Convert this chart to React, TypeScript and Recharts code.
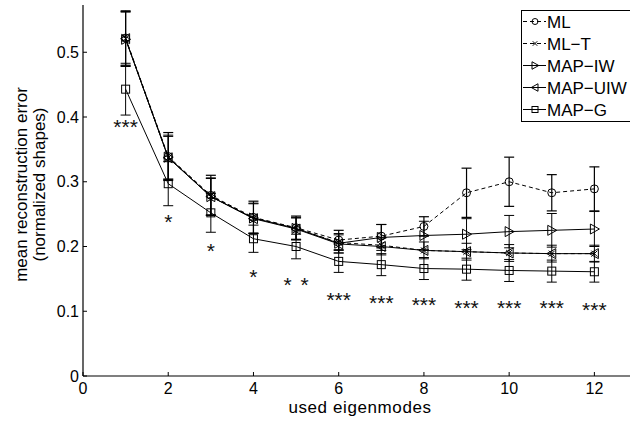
import React from 'react';
import { ComposedChart, Line, XAxis, YAxis, ErrorBar, Scatter, Customized } from 'recharts';

const FONT = '"Liberation Sans", Arial, Helvetica, sans-serif';

const eigenmodes = [1, 2, 3, 4, 5, 6, 7, 8, 9, 10, 11, 12];
const mlValues = [0.522, 0.339, 0.279, 0.245, 0.229, 0.210, 0.216, 0.231, 0.283, 0.300, 0.283, 0.289];
const mlErrors = [0.042, 0.037, 0.031, 0.025, 0.018, 0.015, 0.018, 0.015, 0.038, 0.038, 0.028, 0.034];
const mltValues = [0.521, 0.337, 0.278, 0.244, 0.228, 0.206, 0.202, 0.194, 0.192, 0.190, 0.189, 0.189];
const mapIwValues = [0.520, 0.338, 0.277, 0.244, 0.228, 0.205, 0.214, 0.217, 0.219, 0.223, 0.225, 0.227];
const mapIwErrors = [0.042, 0.034, 0.029, 0.023, 0.017, 0.015, 0.020, 0.022, 0.024, 0.025, 0.026, 0.027];
const mapUiwValues = [0.521, 0.337, 0.277, 0.243, 0.227, 0.204, 0.200, 0.194, 0.192, 0.190, 0.189, 0.189];
const mapUiwErrors = [0.042, 0.033, 0.028, 0.023, 0.017, 0.014, 0.013, 0.013, 0.013, 0.013, 0.013, 0.013];
const mapGValues = [0.443, 0.297, 0.252, 0.212, 0.200, 0.177, 0.172, 0.166, 0.165, 0.163, 0.162, 0.161];
const mapGErrors = [0.040, 0.034, 0.030, 0.021, 0.019, 0.017, 0.017, 0.017, 0.017, 0.017, 0.017, 0.016];

const significanceX = [1, 2, 3, 4, 4.8, 5.2, 6, 7, 8, 9, 10, 11, 12];
const significanceY = [0.393, 0.246, 0.201, 0.160, 0.148, 0.148, 0.125, 0.120, 0.117, 0.113, 0.113, 0.112, 0.109];
const significanceLabels = ['***', '*', '*', '*', '*', '*', '***', '***', '***', '***', '***', '***', '***'];

const xTicks = [0, 2, 4, 6, 8, 10, 12];
const yTicks = [0, 0.1, 0.2, 0.3, 0.4, 0.5];

const seriesNames = ['ML', 'ML\u2212T', 'MAP\u2212IW', 'MAP\u2212UIW', 'MAP\u2212G'];

const data = eigenmodes.map((x, i) => ({
  x,
  ml: mlValues[i],
  mlErr: mlErrors[i],
  mlt: mltValues[i],
  iw: mapIwValues[i],
  iwErr: mapIwErrors[i],
  uiw: mapUiwValues[i],
  uiwErr: mapUiwErrors[i],
  g: mapGValues[i],
  gErr: mapGErrors[i],
}));

const sigData = significanceX.map((x, i) => ({ x, y: significanceY[i], label: significanceLabels[i] }));

type MarkerKind = 'circle' | 'cross' | 'triRight' | 'triLeft' | 'square';

const Marker = ({ kind, cx, cy, s = 1 }: { kind: MarkerKind; cx: number; cy: number; s?: number }) => {
  if (cx == null || cy == null) return null;
  const st = { stroke: '#000', strokeWidth: 1, fill: 'none' };
  if (kind === 'circle') return <circle cx={cx} cy={cy} r={4 * s} {...st} />;
  if (kind === 'cross') {
    const d = 3 * s;
    return <path d={`M${cx - d},${cy - d}L${cx + d},${cy + d}M${cx - d},${cy + d}L${cx + d},${cy - d}`} {...st} />;
  }
  if (kind === 'triRight') {
    return <polygon points={`${cx - 4 * s},${cy - 5 * s} ${cx + 5 * s},${cy} ${cx - 4 * s},${cy + 5 * s}`} {...st} />;
  }
  if (kind === 'triLeft') {
    return <polygon points={`${cx + 4 * s},${cy - 5 * s} ${cx - 5 * s},${cy} ${cx + 4 * s},${cy + 5 * s}`} {...st} />;
  }
  return <rect x={cx - 4 * s} y={cy - 4 * s} width={8 * s} height={8 * s} {...st} />;
};

const legendItems: { name: string; dash?: string; marker: MarkerKind }[] = [
  { name: seriesNames[0], dash: '4 3', marker: 'circle' },
  { name: seriesNames[1], dash: '4 3', marker: 'cross' },
  { name: seriesNames[2], marker: 'triRight' },
  { name: seriesNames[3], marker: 'triLeft' },
  { name: seriesNames[4], marker: 'square' },
];

const LegendBox = () => {
  const left = 521;
  const top = 10;
  return (
    <g>
      <rect x={left + 0.5} y={top + 0.5} width={125} height={111} fill="#fff" stroke="#000" strokeWidth={1} />
      {legendItems.map((it, i) => {
        const cy = top + 11.5 + i * 22;
        return (
          <g key={it.name}>
            <line x1={left + 2} x2={left + 25} y1={cy} y2={cy} stroke="#000" strokeWidth={1} strokeDasharray={it.dash} />
            <Marker kind={it.marker} cx={left + 14} cy={cy} s={0.75} />
            <text x={left + 26} y={cy + 6.2} fontSize={17} fontFamily={FONT} fill="#000">{it.name}</text>
          </g>
        );
      })}
    </g>
  );
};

const YLabel = (props: any) => {
  const vb = props.viewBox || { x: 0, y: 5, width: 83, height: 371 };
  const cy = vb.y + vb.height / 2 - 6;
  return (
    <g>
      <text transform={`translate(${vb.x + 27},${cy}) rotate(-90)`} textAnchor="middle" fontSize={17} fontFamily={FONT} fill="#000">
        mean reconstruction error
      </text>
      <text transform={`translate(${vb.x + 45},${cy}) rotate(-90)`} textAnchor="middle" fontSize={17} fontFamily={FONT} fill="#000">
        (normalized shapes)
      </text>
    </g>
  );
};

const XLabel = (props: any) => {
  const vb = props.viewBox || { x: 83, y: 376, width: 554, height: 45 };
  return (
    <text x={vb.x + vb.width / 2} y={413} textAnchor="middle" fontSize={17} letterSpacing={0.6} fontFamily={FONT} fill="#000">
      used eigenmodes
    </text>
  );
};

const StarShape = (p: any) => {
  if (p.cx == null) return null;
  return (
    <text x={p.cx} y={p.cy + 12} textAnchor="middle" fontSize={21} fontFamily={FONT} fill="#111">
      {p.payload.label}
    </text>
  );
};

const tickStyle = { fontSize: 16, fill: '#000', fontFamily: FONT };

export default function App() {
  return (
    <div style={{ position: 'absolute', left: 0, top: 0, width: 630, height: 421, overflow: 'hidden', background: '#fff' }}>
      <ComposedChart width={640} height={421} data={data} margin={{ top: 5, right: 3, bottom: 0, left: 0 }}>
        <XAxis
          xAxisId="main"
          type="number"
          dataKey="x"
          domain={[0, 13]}
          ticks={xTicks}
          allowDataOverflow
          tickSize={-4}
          tickMargin={11}
          height={45}
          axisLine={{ stroke: '#000', strokeWidth: 1.2 }}
          tickLine={{ stroke: '#000' }}
          tick={tickStyle}
          label={<XLabel />}
        />
        <XAxis
          xAxisId="top"
          orientation="top"
          type="number"
          dataKey="x"
          domain={[0, 13]}
          ticks={xTicks}
          allowDataOverflow
          tickSize={-4}
          height={0}
          axisLine={{ stroke: '#000', strokeWidth: 1.2 }}
          tickLine={{ stroke: '#000' }}
          tick={() => <g />}
        />
        <YAxis
          yAxisId="main"
          type="number"
          domain={[0, 0.573]}
          ticks={yTicks}
          allowDataOverflow
          width={83}
          tickSize={-4}
          tickMargin={8}
          axisLine={{ stroke: '#000', strokeWidth: 1.2 }}
          tickLine={{ stroke: '#000' }}
          tick={tickStyle}
          tickFormatter={(v: number) => (v === 0 ? '0' : v.toFixed(1))}
          label={<YLabel />}
        />
        <Line
          xAxisId="main"
          yAxisId="main"
          dataKey="mlt"
          name={seriesNames[1]}
          stroke="#000"
          strokeWidth={1}
          strokeDasharray="4 3"
          isAnimationActive={false}
          dot={(p: any) => <Marker key={`mlt${p.index}`} kind="cross" cx={p.cx} cy={p.cy} />}
        />
        <Line
          xAxisId="main"
          yAxisId="main"
          dataKey="iw"
          name={seriesNames[2]}
          stroke="#000"
          strokeWidth={1}
          isAnimationActive={false}
          dot={(p: any) => <Marker key={`iw${p.index}`} kind="triRight" cx={p.cx} cy={p.cy} />}
        >
          <ErrorBar dataKey="iwErr" width={5} stroke="#000" strokeWidth={1} direction="y" />
        </Line>
        <Line
          xAxisId="main"
          yAxisId="main"
          dataKey="uiw"
          name={seriesNames[3]}
          stroke="#000"
          strokeWidth={1}
          isAnimationActive={false}
          dot={(p: any) => <Marker key={`uiw${p.index}`} kind="triLeft" cx={p.cx} cy={p.cy} />}
        >
          <ErrorBar dataKey="uiwErr" width={5} stroke="#000" strokeWidth={1} direction="y" />
        </Line>
        <Line
          xAxisId="main"
          yAxisId="main"
          dataKey="g"
          name={seriesNames[4]}
          stroke="#000"
          strokeWidth={1}
          isAnimationActive={false}
          dot={(p: any) => <Marker key={`g${p.index}`} kind="square" cx={p.cx} cy={p.cy} />}
        >
          <ErrorBar dataKey="gErr" width={5} stroke="#000" strokeWidth={1} direction="y" />
        </Line>
        <Line
          xAxisId="main"
          yAxisId="main"
          dataKey="ml"
          name={seriesNames[0]}
          stroke="#000"
          strokeWidth={1}
          strokeDasharray="4 3"
          isAnimationActive={false}
          dot={(p: any) => <Marker key={`ml${p.index}`} kind="circle" cx={p.cx} cy={p.cy} />}
        >
          <ErrorBar dataKey="mlErr" width={5} stroke="#000" strokeWidth={1.2} direction="y" />
        </Line>
        <Scatter
          xAxisId="main"
          yAxisId="main"
          data={sigData}
          dataKey="y"
          isAnimationActive={false}
          shape={StarShape}
          legendType="none"
        />
        <Customized component={LegendBox} />
      </ComposedChart>
    </div>
  );
}
